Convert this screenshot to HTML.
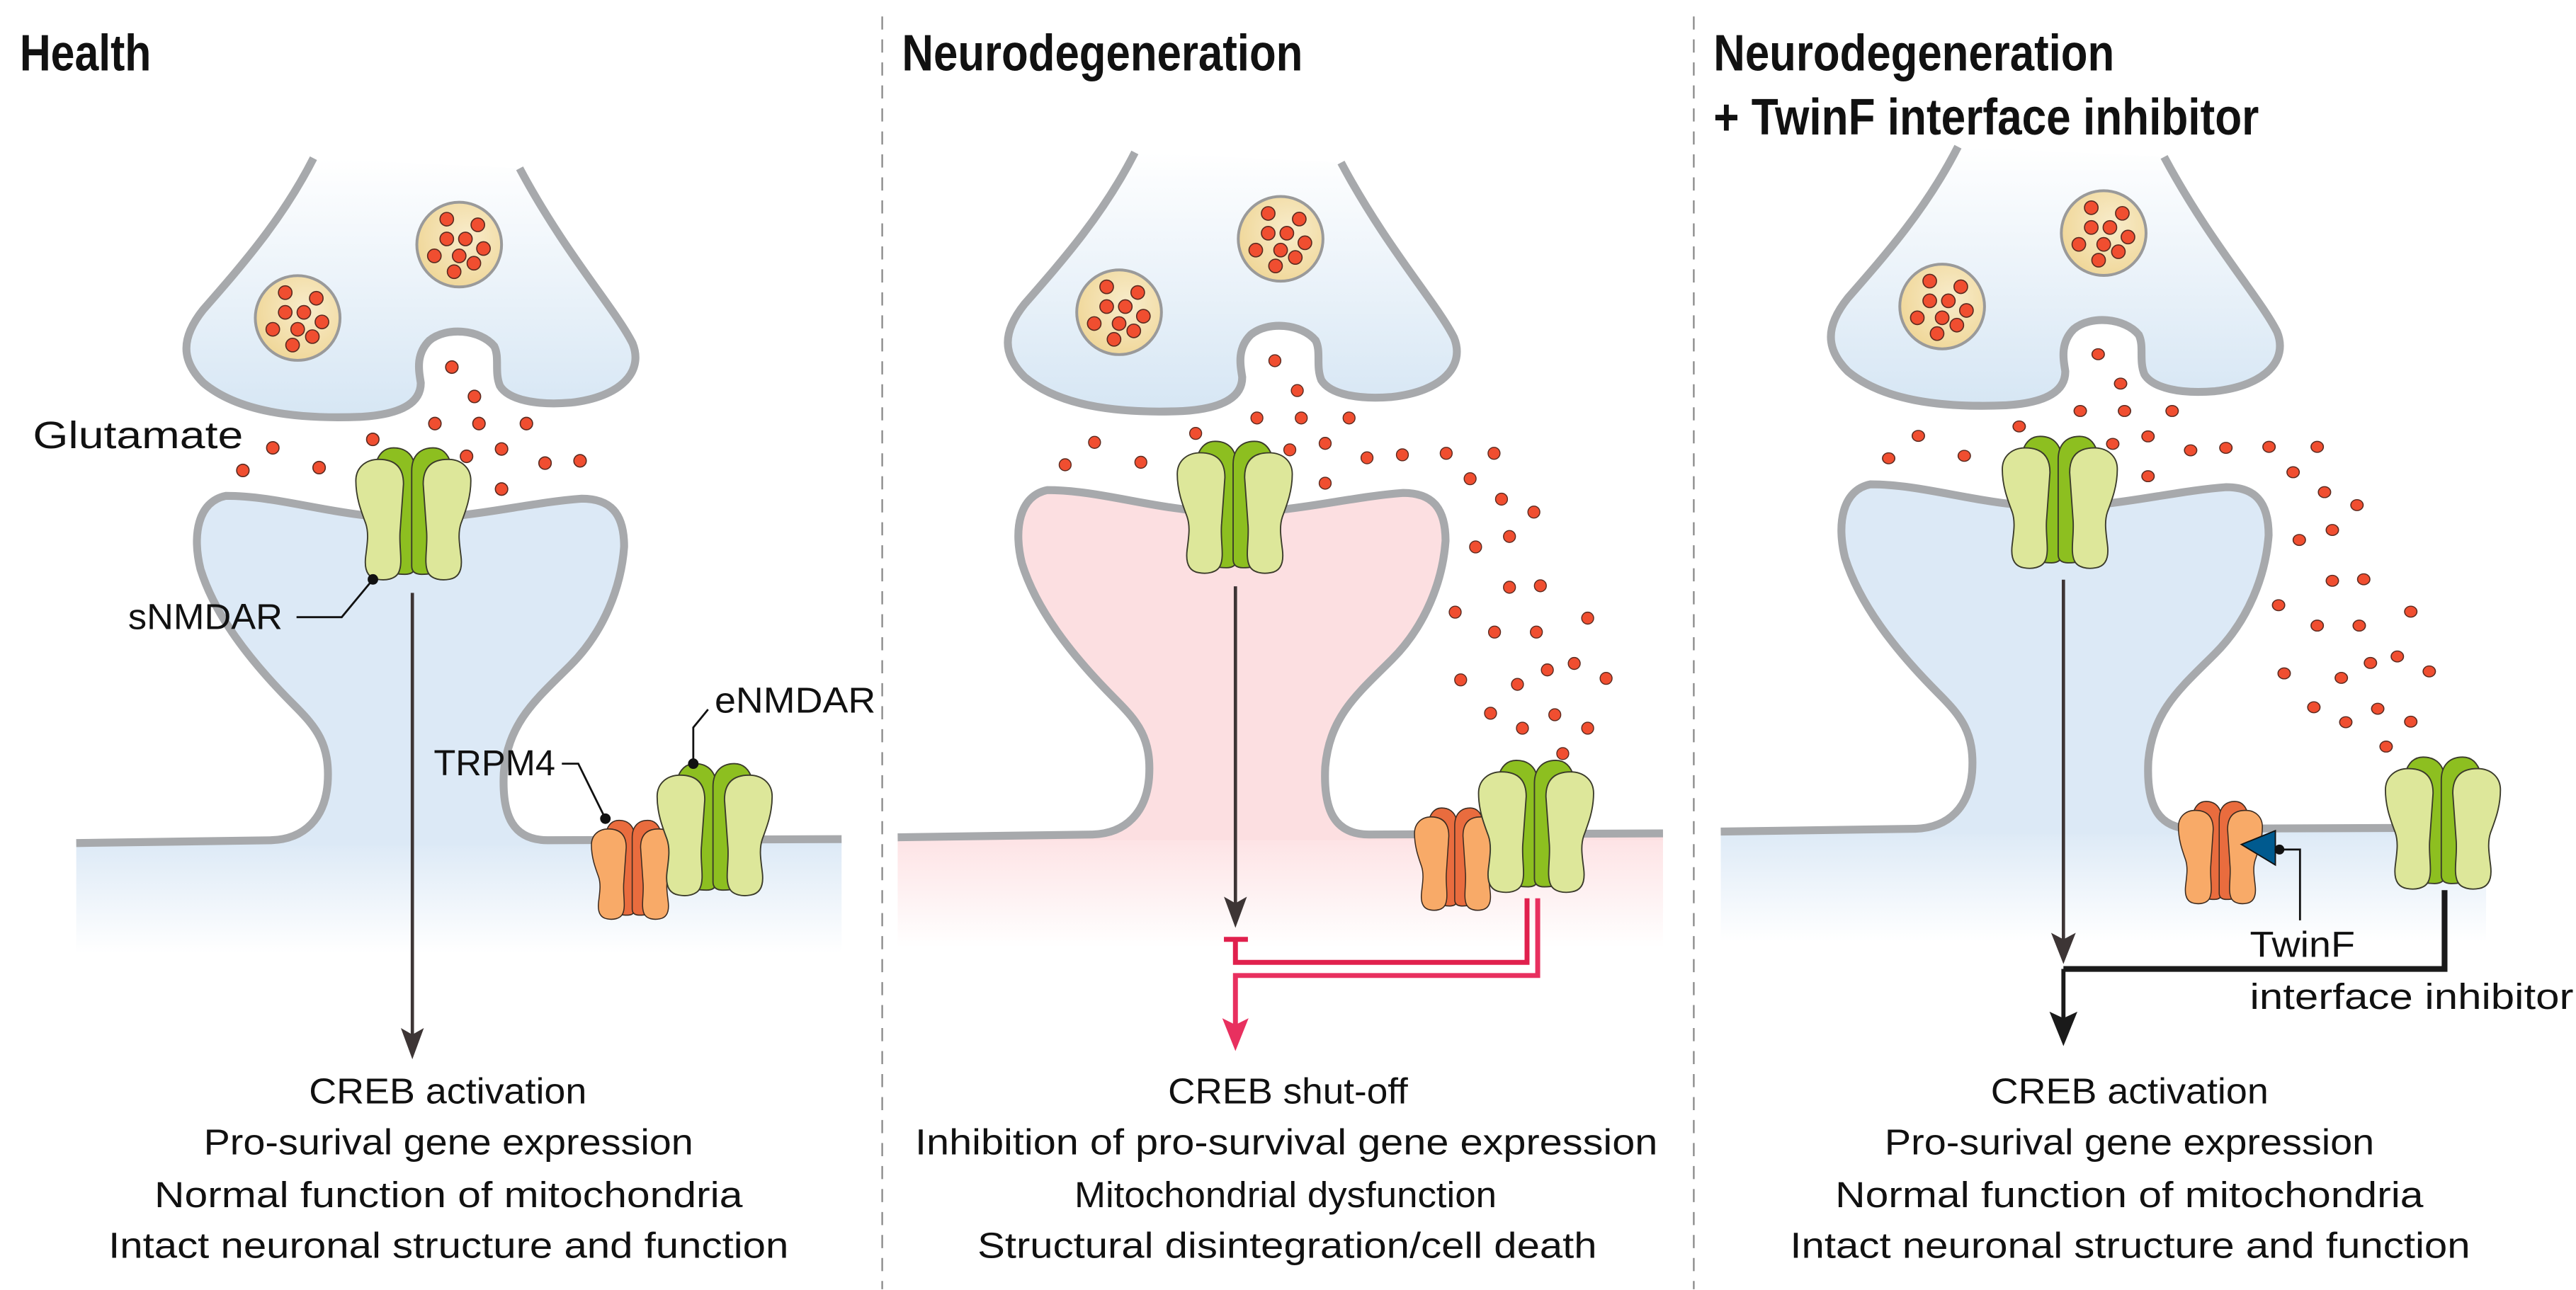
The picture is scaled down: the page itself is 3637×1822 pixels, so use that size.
<!DOCTYPE html>
<html><head><meta charset="utf-8"><style>
html,body{margin:0;padding:0;background:#fff;}
svg{display:block;}
text{font-family:"Liberation Sans",sans-serif;fill:#111;}
</style></head><body>
<svg width="3637" height="1822" viewBox="0 0 1568 785.5" xmlns="http://www.w3.org/2000/svg">
<defs>
<linearGradient id="preG" x1="0" y1="0" x2="0" y2="1"><stop offset="0" stop-color="#ffffff"/><stop offset="1" stop-color="#d6e6f4"/></linearGradient>
<linearGradient id="bandB" x1="0" y1="0" x2="0" y2="1"><stop offset="0" stop-color="#dce9f6"/><stop offset="1" stop-color="#ffffff"/></linearGradient>
<linearGradient id="bandP" x1="0" y1="0" x2="0" y2="1"><stop offset="0" stop-color="#fde2e4"/><stop offset="1" stop-color="#ffffff"/></linearGradient>
<radialGradient id="vesG" cx="0.6" cy="0.4" r="0.7"><stop offset="0" stop-color="#f8eccb"/><stop offset="1" stop-color="#efd594"/></radialGradient>
<g id="lobeIn"><path d="M23,0 C31,0 36,5 36,14 L36,72 C36,76 33,77 30,77 C20,77 16,74 16,66 L15,40 C12,30 11,20 12,10 C14,3 18,0 23,0 Z"/></g>
<g id="lobeOut"><path d="M14,7 C24,7 29,12 29,22 L27,50 C26,60 29,70 26,76 C24,80 18,81 13,80 C7,79 5,74 6,66 C7,58 8,52 6,46 C3,38 0,30 0,20 C0,12 6,7 14,7 Z"/></g>
<g id="nmdar" stroke="#3a3a2a" stroke-width="0.8">
 <use href="#lobeIn" fill="#8dbf20"/>
 <use href="#lobeIn" fill="#8dbf20" transform="translate(70,0) scale(-1,1)"/>
 <use href="#lobeOut" fill="#dde79a"/>
 <use href="#lobeOut" fill="#dde79a" transform="translate(70,0) scale(-1,1)"/>
</g>
<g id="trpm" stroke="#3a2a20" stroke-width="0.9">
 <use href="#lobeIn" fill="#e96c3e"/>
 <use href="#lobeIn" fill="#e96c3e" transform="translate(70,0) scale(-1,1)"/>
 <use href="#lobeOut" fill="#f8aa68"/>
 <use href="#lobeOut" fill="#f8aa68" transform="translate(70,0) scale(-1,1)"/>
</g>
<g id="ves">
 <circle cx="0" cy="0" r="75" fill="url(#vesG)" stroke="#9a9a9a" stroke-width="5"/>
 <g fill="#f04e30" stroke="#5a2a20" stroke-width="2">
 <circle cx="-22" cy="-45" r="12"/><circle cx="33" cy="-35" r="12"/><circle cx="-22" cy="-10" r="12"/>
 <circle cx="11" cy="-10" r="12"/><circle cx="43" cy="7" r="12"/><circle cx="-44" cy="20" r="12"/>
 <circle cx="0" cy="20" r="12"/><circle cx="26" cy="33" r="12"/><circle cx="-9" cy="48" r="12"/>
 </g>
</g>
<g id="pre">
 <path d="M555,92 C500,200 430,280 360,360 C320,410 320,450 360,490 C420,540 520,555 640,550 C720,545 745,520 745,490 C742,470 735,440 760,415 C790,390 850,395 875,425 C885,445 875,470 885,495 C900,520 950,530 1010,525 C1100,515 1140,470 1120,420 C1090,360 1000,260 920,110 Z" fill="url(#preG)" stroke="none"/>
 <path d="M555,92 C500,200 430,280 360,360 C320,410 320,450 360,490 C420,540 520,555 640,550 C720,545 745,520 745,490 C742,470 735,440 760,415 C790,390 850,395 875,425 C885,445 875,470 885,495 C900,520 950,530 1010,525 C1100,515 1140,470 1120,420 C1090,360 1000,260 920,110" fill="none" stroke="#a7a9ac" stroke-width="14"/>
 <use href="#ves" x="527" y="375"/>
 <use href="#ves" x="813" y="245"/>
</g>
<path id="spineFill" d="M135,1305 L480,1300 C540,1298 575,1260 580,1200 C585,1130 560,1100 520,1060 C440,980 380,900 355,820 C340,760 350,700 400,690 C480,690 560,715 650,725 L810,725 C880,718 960,700 1030,695 C1080,695 1105,720 1105,780 C1100,850 1070,930 1010,990 C950,1050 900,1090 892,1180 C888,1260 910,1300 970,1300 L1490,1298 L1490,1310 L135,1310 Z"/>
<path id="spineLine" fill="none" stroke="#a7a9ac" stroke-width="14" d="M135,1305 L480,1300 C540,1298 575,1260 580,1200 C585,1130 560,1100 520,1060 C440,980 380,900 355,820 C340,760 350,700 400,690 C480,690 560,715 650,725 M810,725 C880,718 960,700 1030,695 C1080,695 1105,720 1105,780 C1100,850 1070,930 1010,990 C950,1050 900,1090 892,1180 C888,1260 910,1300 970,1300 L1490,1298"/>
</defs>

<line x1="537" y1="10" x2="537" y2="785" stroke="#8a8a8a" stroke-width="1" stroke-dasharray="8,6"/>
<line x1="1031" y1="10" x2="1031" y2="785" stroke="#8a8a8a" stroke-width="1" stroke-dasharray="8,6"/>

<text x="12" y="43" font-size="31" font-weight="bold" textLength="80" lengthAdjust="spacingAndGlyphs">Health</text>
<text x="549" y="43" font-size="31" font-weight="bold" textLength="244" lengthAdjust="spacingAndGlyphs">Neurodegeneration</text>
<text x="1043" y="43" font-size="31" font-weight="bold" textLength="244" lengthAdjust="spacingAndGlyphs">Neurodegeneration</text>
<text x="1043" y="82" font-size="31" font-weight="bold" textLength="332" lengthAdjust="spacingAndGlyphs">+ TwinF interface inhibitor</text>

<!-- PANEL 1 -->
<g transform="translate(0,64.7) scale(0.3438)">
 <rect x="135" y="1300" width="1355" height="200" fill="url(#bandB)"/>
 <use href="#spineFill" fill="#dce9f6"/>
 <use href="#pre"/>
 <use href="#spineLine"/>
 <g fill="#f04e30" stroke="#5a2a20" stroke-width="2">
 <circle cx="800" cy="462" r="11"/><circle cx="840" cy="514" r="11"/><circle cx="770" cy="562" r="11"/><circle cx="848" cy="562" r="11"/><circle cx="932" cy="562" r="11"/><circle cx="660" cy="590" r="11"/><circle cx="483" cy="605" r="11"/><circle cx="888" cy="607" r="11"/><circle cx="826" cy="620" r="11"/><circle cx="565" cy="640" r="11"/><circle cx="430" cy="645" r="11"/><circle cx="965" cy="632" r="11"/><circle cx="1027" cy="628" r="11"/><circle cx="888" cy="678" r="11"/>
 </g>
</g>
<use href="#nmdar" transform="translate(216.6,272.7)"/>
<use href="#trpm" transform="translate(360,499.5) scale(0.73,0.75)"/>
<use href="#nmdar" transform="translate(400,465)"/>
<g stroke="#111" stroke-width="1.2" fill="none">
 <polyline points="180.5,375.8 208,375.8 227,352.8"/>
 <polyline points="422,465 422,443 431,432"/>
 <polyline points="342,465 352,465 368.5,498.5"/>
</g>
<g fill="#111"><circle cx="227" cy="352.8" r="3.2"/><circle cx="422" cy="465" r="3.2"/><circle cx="368.5" cy="498.5" r="3.2"/></g>
<text x="20" y="273" font-size="23" textLength="128" lengthAdjust="spacingAndGlyphs">Glutamate</text>
<text x="78" y="383" font-size="22" textLength="94" lengthAdjust="spacingAndGlyphs">sNMDAR</text>
<text x="435" y="434" font-size="22" textLength="98" lengthAdjust="spacingAndGlyphs">eNMDAR</text>
<text x="264" y="472" font-size="22" textLength="74" lengthAdjust="spacingAndGlyphs">TRPM4</text>
<line x1="251" y1="361" x2="251" y2="632" stroke="#3d3535" stroke-width="2"/>
<path d="M251,645 L244,626 L251,630 L258,626 Z" fill="#3d3535"/>
<g font-size="22" text-anchor="middle">
<text x="272.6" y="672" textLength="169" lengthAdjust="spacingAndGlyphs">CREB activation</text>
<text x="273" y="703" textLength="298" lengthAdjust="spacingAndGlyphs">Pro-surival gene expression</text>
<text x="273" y="735" textLength="358" lengthAdjust="spacingAndGlyphs">Normal function of mitochondria</text>
<text x="273" y="766" textLength="414" lengthAdjust="spacingAndGlyphs">Intact neuronal structure and function</text>
</g>

<!-- PANEL 2 -->
<g transform="translate(500,-3.5)"><g transform="translate(0,64.7) scale(0.3438)">
 <rect x="135" y="1300" width="1355" height="200" fill="url(#bandP)"/>
 <use href="#spineFill" fill="#fcdfe1"/>
 <use href="#pre"/>
 <use href="#spineLine"/>
</g></g>
<g transform="translate(538.9,64.7) scale(0.3032)" fill="#f04e30" stroke="#5a2a20" stroke-width="2">
<circle cx="782" cy="511" r="12"/><circle cx="827" cy="571" r="12"/><circle cx="746" cy="626" r="12"/><circle cx="835" cy="626" r="12"/><circle cx="931" cy="626" r="12"/><circle cx="623" cy="657" r="12"/><circle cx="420" cy="675" r="12"/><circle cx="883" cy="677" r="12"/><circle cx="812" cy="690" r="12"/><circle cx="513" cy="715" r="12"/><circle cx="361" cy="720" r="12"/><circle cx="967" cy="706" r="12"/><circle cx="1038" cy="700" r="12"/><circle cx="1126" cy="697" r="12"/><circle cx="1222" cy="697" r="12"/><circle cx="883" cy="757" r="12"/><circle cx="1174" cy="748" r="12"/><circle cx="1237" cy="789" r="12"/><circle cx="1302" cy="815" r="12"/><circle cx="1253" cy="864" r="12"/><circle cx="1185" cy="885" r="12"/><circle cx="1253" cy="966" r="12"/><circle cx="1315" cy="963" r="12"/><circle cx="1144" cy="1016" r="12"/><circle cx="1410" cy="1028" r="12"/><circle cx="1223" cy="1056" r="12"/><circle cx="1307" cy="1056" r="12"/><circle cx="1329" cy="1132" r="12"/><circle cx="1383" cy="1119" r="12"/><circle cx="1155" cy="1152" r="12"/><circle cx="1269" cy="1161" r="12"/><circle cx="1447" cy="1149" r="12"/><circle cx="1215" cy="1219" r="12"/><circle cx="1344" cy="1222" r="12"/><circle cx="1279" cy="1249" r="12"/><circle cx="1410" cy="1249" r="12"/><circle cx="1360" cy="1300" r="12"/>
</g>
<use href="#nmdar" transform="translate(716.6,268.7)"/>
<use href="#trpm" transform="translate(861,492) scale(0.72,0.775)"/>
<use href="#nmdar" transform="translate(900,463)"/>
<line x1="752" y1="357" x2="752" y2="552" stroke="#3d3535" stroke-width="2"/>
<path d="M752,565 L745,546 L752,550 L759,546 Z" fill="#3d3535"/>
<g fill="none" stroke="#e0204d" stroke-width="3">
 <line x1="745" y1="572" x2="759.6" y2="572"/>
 <polyline points="752,572 752,586 929.5,586 929.5,547"/>
</g>
<polyline points="936,547 936,594 752,594 752,625" fill="none" stroke="#e8305f" stroke-width="3"/>
<path d="M752,640 L744,620 L752,624 L760,620 Z" fill="#e8305f"/>
<g font-size="22" text-anchor="middle">
<text x="784" y="672" textLength="146" lengthAdjust="spacingAndGlyphs">CREB shut-off</text>
<text x="783" y="703" textLength="452" lengthAdjust="spacingAndGlyphs">Inhibition of pro-survival gene expression</text>
<text x="782.5" y="735" textLength="257" lengthAdjust="spacingAndGlyphs">Mitochondrial dysfunction</text>
<text x="783.5" y="766" textLength="377" lengthAdjust="spacingAndGlyphs">Structural disintegration/cell death</text>
</g>

<!-- PANEL 3 -->
<g transform="translate(1001,-7)"><g transform="translate(0,64.7) scale(0.3438)">
 <rect x="135" y="1300" width="1355" height="200" fill="url(#bandB)"/>
 <use href="#spineFill" fill="#dce9f6"/>
 <use href="#pre"/>
 <use href="#spineLine"/>
</g></g>
<g transform="translate(1034.7,64.7) scale(0.341,0.3032)" fill="#f04e30" stroke="#5a2a20" stroke-width="2">
<circle cx="711" cy="498" r="11"/><circle cx="751" cy="557" r="11"/><circle cx="679" cy="612" r="11"/><circle cx="758" cy="612" r="11"/><circle cx="843" cy="612" r="11"/><circle cx="570" cy="643" r="11"/><circle cx="390" cy="662" r="11"/><circle cx="800" cy="663" r="11"/><circle cx="737" cy="678" r="11"/><circle cx="472" cy="702" r="11"/><circle cx="337" cy="707" r="11"/><circle cx="876" cy="691" r="11"/><circle cx="939" cy="686" r="11"/><circle cx="1016" cy="684" r="11"/><circle cx="1102" cy="684" r="11"/><circle cx="800" cy="743" r="11"/><circle cx="1059" cy="735" r="11"/><circle cx="1115" cy="775" r="11"/><circle cx="1173" cy="801" r="11"/><circle cx="1129" cy="851" r="11"/><circle cx="1070" cy="871" r="11"/><circle cx="1129" cy="953" r="11"/><circle cx="1185" cy="950" r="11"/><circle cx="1033" cy="1002" r="11"/><circle cx="1269" cy="1015" r="11"/><circle cx="1102" cy="1043" r="11"/><circle cx="1177" cy="1043" r="11"/><circle cx="1197" cy="1118" r="11"/><circle cx="1245" cy="1105" r="11"/><circle cx="1043" cy="1139" r="11"/><circle cx="1145" cy="1148" r="11"/><circle cx="1302" cy="1135" r="11"/><circle cx="1096" cy="1207" r="11"/><circle cx="1210" cy="1210" r="11"/><circle cx="1153" cy="1237" r="11"/><circle cx="1269" cy="1236" r="11"/><circle cx="1225" cy="1286" r="11"/>
</g>
<use href="#nmdar" transform="translate(1218.8,265.7)"/>
<use href="#trpm" transform="translate(1326,488) scale(0.73,0.775)"/>
<use href="#nmdar" transform="translate(1452,461)"/>
<path d="M1364.3,514.2 L1385,505.8 L1385,526.7 Z" fill="#005a8f" stroke="#111" stroke-width="0.8"/>
<polyline points="1387.5,517.3 1400,517.3 1400,560.4" fill="none" stroke="#111" stroke-width="1.2"/>
<circle cx="1387.5" cy="517.3" r="3" fill="#111"/>
<text x="1369.5" y="582.7" font-size="22" textLength="64" lengthAdjust="spacingAndGlyphs">TwinF</text>
<text x="1369.5" y="614.3" font-size="22" textLength="197" lengthAdjust="spacingAndGlyphs">interface inhibitor</text>
<line x1="1256" y1="353" x2="1256" y2="574" stroke="#3d3535" stroke-width="2"/>
<path d="M1256,587 L1248.5,568 L1256,572 L1263.5,568 Z" fill="#3d3535"/>
<polyline points="1256,590 1488,590 1488,542" fill="none" stroke="#1a1a1a" stroke-width="3.5"/>
<line x1="1256" y1="590" x2="1256" y2="622" stroke="#1a1a1a" stroke-width="2.5"/>
<path d="M1256,637 L1247.5,616 L1256,620 L1264.5,616 Z" fill="#1a1a1a"/>
<g font-size="22" text-anchor="middle">
<text x="1296.3" y="672" textLength="169" lengthAdjust="spacingAndGlyphs">CREB activation</text>
<text x="1296.2" y="703" textLength="298" lengthAdjust="spacingAndGlyphs">Pro-surival gene expression</text>
<text x="1296.1" y="735" textLength="358" lengthAdjust="spacingAndGlyphs">Normal function of mitochondria</text>
<text x="1296.6" y="766" textLength="414" lengthAdjust="spacingAndGlyphs">Intact neuronal structure and function</text>
</g>
</svg>
</body></html>
